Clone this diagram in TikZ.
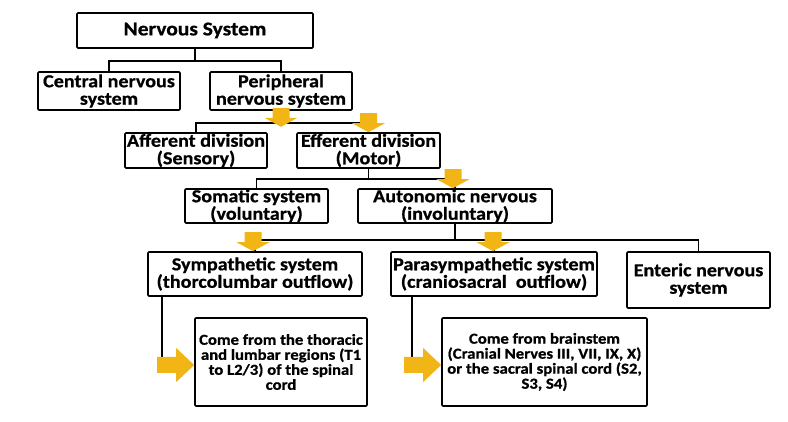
\documentclass[tikz,border=0pt]{standalone}
\usepackage{fontspec}
\setmainfont{Carlito}[FakeStretch=1.1, BoldFeatures={FakeBold=0.8}]
\usetikzlibrary{calc}

\definecolor{arrowgold}{RGB}{242,181,22}

\begin{document}
\begin{tikzpicture}[
x=1pt, y=-1pt,
box/.style={draw=black, line width=1.6pt, rounded corners=1pt, align=center, inner sep=0pt, font={\bfseries\fontsize{18.3}{17.5}\selectfont}},
title/.style={box, font={\bfseries\fontsize{19.5}{20}\selectfont}},
note/.style={box, font={\bfseries\fontsize{15.2}{15}\selectfont}},
link/.style={line width=1.6pt, black},
downblock/.pic={\fill[arrowgold] (-8.5,-19) -- (8.5,-19) -- (8.5,-9) -- (16.5,-9) -- (0,0) -- (-16.5,-9) -- (-8.5,-9) -- cycle;},
rightblock/.pic={\fill[arrowgold] (-37,-8) -- (-18,-8) -- (-18,-17) -- (0,0) -- (-18,17) -- (-18,8) -- (-37,8) -- cycle;}
]
\useasboundingbox (0,0) rectangle (788,422);

% --- Boites ---
\node[title, minimum width=236pt, minimum height=35pt] (ns) at (195,30.5) {Nervous System};
\node[box, minimum width=142pt, minimum height=38pt] (cns) at (109,91) {Central nervous\\system};
\node[box, minimum width=142pt, minimum height=38pt] (pns) at (281,91) {Peripheral\\nervous system};
\node[box, minimum width=142pt, minimum height=35pt] (aff) at (196,150.5) {Afferent division\\(Sensory)};
\node[box, minimum width=143pt, minimum height=35pt] (eff) at (368.5,150.5) {Efferent division\\(Motor)};
\node[box, minimum width=143pt, minimum height=34pt] (som) at (256.5,206) {Somatic system\\(voluntary)};
\node[box, minimum width=194pt, minimum height=34pt] (aut) at (455,206) {Autonomic nervous\\(involuntary)};
\node[box, minimum width=214pt, minimum height=44pt] (sym) at (255,274) {Sympathetic system\\(thorcolumbar outflow)};
\node[box, minimum width=206pt, minimum height=44pt] (para) at (494,274) {Parasympathetic system\\(craniosacral\ \ outflow)};
\node[box, minimum width=143pt, minimum height=56pt] (ent) at (698.5,280) {Enteric nervous\\system};
\node[note, minimum width=172pt, minimum height=88pt] (tho) at (281,362) {Come from the thoracic\\and lumbar regions (T1\\to L2/3) of the spinal\\cord};
\node[note, minimum width=205pt, minimum height=88pt] (brain) at (544.5,362) {Come from brainstem\\(Cranial Nerves III, VII, IX, X)\\or the sacral spinal cord (S2,\\S3, S4)};

% --- Liaisons ---
\draw[link] (ns.south) -- ++(0,12) coordinate (j1) -| (cns.north);
\draw[link] (j1) -| (pns.north);
\draw[link] (pns.south) -- ++(0,12) coordinate (j2) -| (aff.north);
\draw[link] (j2) -| (eff.north);
\draw[link] (eff.south) -- ++(0,10) coordinate (j3) -| (som.north);
\draw[link] (j3) -| (aut.north);
\draw[link] (aut.south) -- ++(0,16) coordinate (j4) -| (sym.north);
\draw[link] (j4) -| (para.north);
\draw[link] (j4) -| (ent.north);
\draw[link] ([xshift=15pt]sym.south west) |- ([xshift=-20pt,yshift=-3pt]tho.west);
\draw[link] ([xshift=22pt]para.south west) |- ([xshift=-20pt,yshift=-3pt]brain.west);

% --- Fleches jaunes ---
\pic at ([yshift=-16pt]pns.south) {downblock};
\pic at (eff.north) {downblock};
\pic at ([xshift=-2pt]aut.north) {downblock};
\pic at ([xshift=-2pt]sym.north) {downblock};
\pic at ([xshift=-1pt]para.north) {downblock};
\pic at ([yshift=-3pt]tho.west) {rightblock};
\pic at ([yshift=-3pt]brain.west) {rightblock};
\end{tikzpicture}
\end{document}
